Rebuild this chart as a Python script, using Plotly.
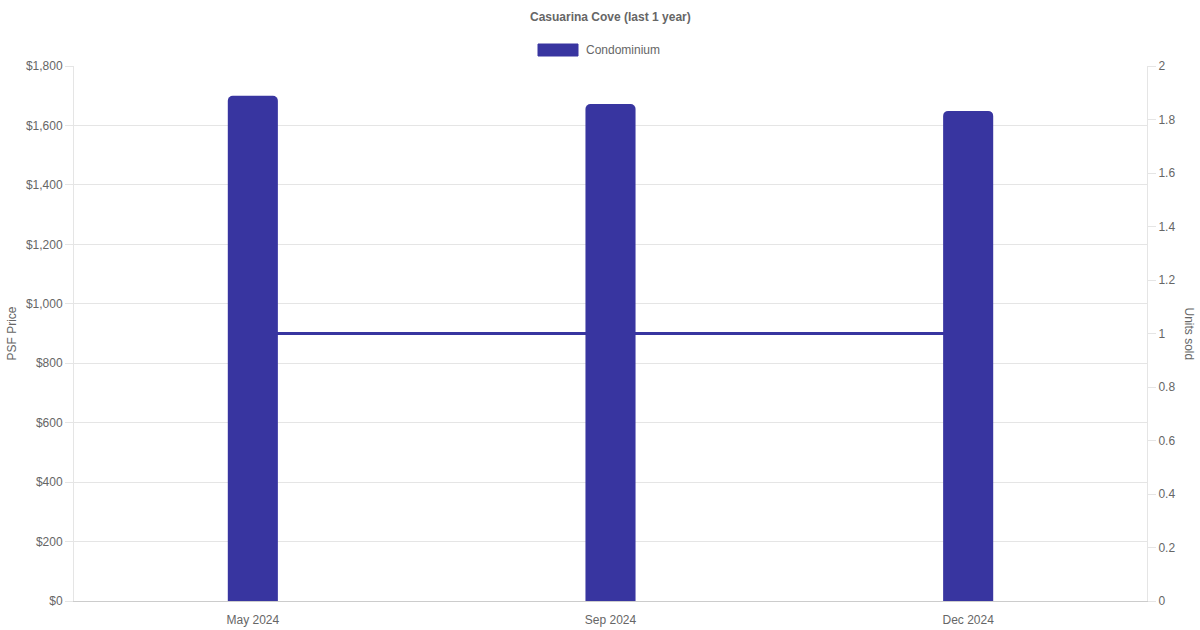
import plotly.graph_objects as go

title = "Casuarina Cove (last 1 year)"
months = ["May 2024", "Sep 2024", "Dec 2024"]
psf_price = [1700, 1672, 1649]
units_sold = [1, 1, 1]
series_name = "Condominium"

color = "#3835a0"
grid = "#e5e5e5"
txt = "#666666"
font = "Liberation Sans, Arial, sans-serif"

fig = go.Figure()
# units sold line on primary (right-side) axis so bars draw on top
fig.add_trace(go.Scatter(x=months, y=units_sold, mode="lines", name=series_name,
                         line=dict(color=color, width=3), showlegend=False,
                         hoverinfo="skip", yaxis="y"))
fig.add_trace(go.Bar(x=months, y=psf_price, name=series_name, marker_color=color,
                     marker_line_width=0, width=0.14, showlegend=False, yaxis="y2"))

fig.update_layout(
    width=1200, height=630,
    paper_bgcolor="white", plot_bgcolor="white",
    margin=dict(l=74, r=53, t=66, b=29),
    font=dict(family=font, size=12, color=txt),
    barcornerradius=5,
    showlegend=False,
    xaxis=dict(type="category", showgrid=False, showline=True, linecolor="#cccccc",
               linewidth=1, ticks="outside", ticklen=8, tickcolor="rgba(0,0,0,0)",
               automargin=False, tickfont=dict(size=12, color=txt)),
    yaxis=dict(side="right", range=[0, 2], dtick=0.2, showgrid=False, zeroline=False,
               showline=True, linecolor=grid, ticks="outside", ticklen=8, tickcolor=grid,
               automargin=False, tickfont=dict(size=12, color=txt)),
    yaxis2=dict(side="left", overlaying="y", range=[0, 1800], dtick=200, tickprefix="$",
                tickformat=",d", showgrid=True, gridcolor=grid, zeroline=False,
                showline=True, linecolor=grid, ticks="outside", ticklen=8, tickcolor=grid,
                automargin=False, tickfont=dict(size=12, color=txt)),
)

fig.add_annotation(text="<b>" + title + "</b>", xref="paper", yref="paper", x=0.5, y=1,
                   yshift=49, showarrow=False, font=dict(size=12, color=txt), yanchor="middle")
# legend
fig.add_shape(type="rect", xref="paper", yref="paper", x0=(538 - 74) / 1073, x1=(578 - 74) / 1073,
              y0=1 + (66 - 56) / 535, y1=1 + (66 - 44) / 535,
              fillcolor=color, line=dict(color=color, width=1))
fig.add_annotation(text=series_name, xref="paper", yref="paper", x=(584 - 74) / 1073,
                   y=1 + (66 - 50) / 535, xanchor="left", yanchor="middle", showarrow=False,
                   font=dict(size=12, color=txt))
# axis titles
fig.add_annotation(text="PSF Price", xref="paper", yref="paper", x=(11 - 74) / 1073, y=0.5,
                   textangle=-90, showarrow=False, xanchor="center", yanchor="middle",
                   font=dict(size=12, color=txt))
fig.add_annotation(text="Units sold", xref="paper", yref="paper", x=(1189 - 74) / 1073, y=0.5,
                   textangle=90, showarrow=False, xanchor="center", yanchor="middle",
                   font=dict(size=12, color=txt))

fig.write_html("out.html", config={"displayModeBar": False},
               post_script="document.body.style.margin='0';document.body.style.overflow='hidden';")
